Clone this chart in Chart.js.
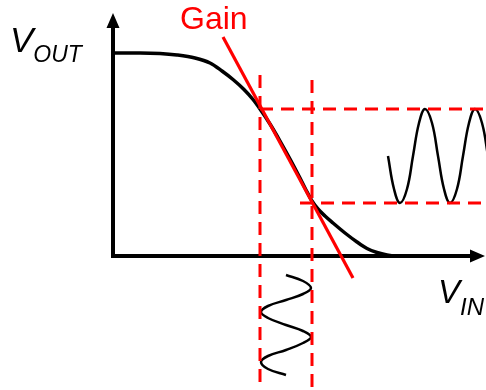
<!DOCTYPE html>
<html><head><meta charset="utf-8">
<script src="https://cdn.jsdelivr.net/npm/chart.js@4/dist/chart.umd.min.js"></script>
<style>html,body{margin:0;padding:0;background:#fff;overflow:hidden}#wrap{width:486px;height:390px}</style>
</head><body><div id="wrap"><canvas id="c" width="486" height="390"></canvas></div>
<script>
// Axis window (V_IN, V_OUT units)
const vinRange = [-11.3, 37.3];
const voutRange = [-13.4, 25.6];
const axisEnd = { vin: 37.2, vout: 24.3 };

// Transfer characteristic (black curve)
const transferVin  = [0, 2.7, 4.7, 6.4, 8.2, 9.7, 10.9, 12.0, 13.1, 14.0, 14.7, 15.7, 16.7, 17.7, 18.7, 19.3, 19.9, 20.5, 21.2, 22.0, 23.2, 24.4, 25.4, 26.4, 27.4, 28.2, 31.0];
const transferVout = [20.3, 20.3, 20.25, 20.1, 19.8, 19.3, 18.5, 17.65, 16.65, 15.65, 14.7, 13.2, 11.5, 9.7, 7.8, 6.6, 5.5, 4.7, 4.0, 3.3, 2.3, 1.4, 0.75, 0.35, 0.1, 0, 0];

// Gain tangent (red)
const gainVin  = [11.0, 24.0];
const gainVout = [21.9, -2.2];

// Operating window (red dashed)
const swingVin  = [14.7, 19.9];     // input swing limits
const swingVout = [14.7, 5.3];      // output swing limits
const dashTopVin = [18.1, 17.6];    // top of vertical dashed lines (V_OUT)
const dashStartVin = [14.7, 18.7];  // left start of horizontal dashed lines (V_IN)

// Input sine (vertical, below x axis)
const inSineVin  = [17.3, 19.0, 19.8, 19.0, 17.3, 15.5, 14.8, 15.5, 17.3, 19.0, 19.8, 19.0, 17.3, 15.5, 14.8, 15.5, 17.3];
const inSineVout = [-1.9, -2.5, -3.2, -3.8, -4.4, -5.0, -5.6, -6.2, -6.9, -7.5, -8.1, -8.7, -9.4, -10.0, -10.6, -11.3, -11.9];

// Output sine (horizontal, right side)
const outSineVin  = [27.5, 28.1, 28.7, 29.4, 30.0, 30.6, 31.2, 31.9, 32.5, 33.1, 33.7, 34.4, 35.0, 35.6, 36.2, 36.9, 37.5];
const outSineVout = [10.0, 6.7, 5.3, 6.7, 10.0, 13.3, 14.7, 13.3, 10.0, 6.7, 5.3, 6.7, 10.0, 13.3, 14.7, 13.3, 10.0];

// Labels
const labels = { vout: ['V', 'OUT'], vin: ['V', 'IN'], gain: 'Gain' };

const pts = (xs, ys) => xs.map((x, i) => ({ x, y: ys[i] }));
const RED = '#ff0000';
const FONT = '"Liberation Sans", Arial, sans-serif';

const dashBase = { borderColor: RED, borderWidth: 3, borderDash: [13, 8], pointRadius: 0, tension: 0, fill: false, order: 2 };

const datasets = [
  { data: pts(transferVin, transferVout), borderColor: '#000', borderWidth: 3.5, pointRadius: 0, cubicInterpolationMode: 'monotone', fill: false, order: 5 },
  { data: pts(inSineVin, inSineVout), borderColor: '#000', borderWidth: 2.5, pointRadius: 0, tension: 0.4, fill: false, order: 4 },
  { data: pts(outSineVin, outSineVout), borderColor: '#000', borderWidth: 2.5, pointRadius: 0, tension: 0.4, fill: false, order: 4 },
  Object.assign({}, dashBase, { data: [{ x: swingVin[0], y: dashTopVin[0] }, { x: swingVin[0], y: voutRange[0] }] }),
  Object.assign({}, dashBase, { data: [{ x: swingVin[1], y: dashTopVin[1] }, { x: swingVin[1], y: voutRange[0] }] }),
  Object.assign({}, dashBase, { data: [{ x: dashStartVin[0], y: swingVout[0] }, { x: vinRange[1], y: swingVout[0] }] }),
  Object.assign({}, dashBase, { data: [{ x: dashStartVin[1], y: swingVout[1] }, { x: vinRange[1], y: swingVout[1] }] }),
  { data: pts(gainVin, gainVout), borderColor: RED, borderWidth: 3.2, pointRadius: 0, tension: 0, fill: false, order: 1 }
];

const axesPlugin = {
  id: 'axesArrows',
  beforeDatasetsDraw(chart) {
    const ctx = chart.ctx, sx = chart.scales.x, sy = chart.scales.y;
    const ox = sx.getPixelForValue(0), oy = sy.getPixelForValue(0);
    const ex = sx.getPixelForValue(axisEnd.vin), ey = sy.getPixelForValue(axisEnd.vout);
    const L = 15, H = 6.5;
    ctx.save();
    ctx.strokeStyle = '#000'; ctx.fillStyle = '#000'; ctx.lineWidth = 4; ctx.lineCap = 'butt';
    ctx.beginPath();
    ctx.moveTo(ox, ey + L - 1); ctx.lineTo(ox, oy + 2);
    ctx.moveTo(ox - 2, oy); ctx.lineTo(ex - L + 1, oy);
    ctx.stroke();
    ctx.beginPath();
    ctx.moveTo(ox, ey); ctx.lineTo(ox - H, ey + L); ctx.lineTo(ox + H, ey + L); ctx.closePath();
    ctx.moveTo(ex, oy); ctx.lineTo(ex - L, oy - H); ctx.lineTo(ex - L, oy + H); ctx.closePath();
    ctx.fill();
    ctx.restore();
  },
  afterDatasetsDraw(chart) {
    const ctx = chart.ctx, sx = chart.scales.x, sy = chart.scales.y;
    ctx.save();
    ctx.textBaseline = 'alphabetic'; ctx.textAlign = 'left';
    // V_OUT
    ctx.fillStyle = '#000';
    let x = sx.getPixelForValue(-10.3), y = sy.getPixelForValue(20.4);
    ctx.font = 'italic 35px ' + FONT; ctx.fillText(labels.vout[0], x, y);
    let w = ctx.measureText(labels.vout[0]).width;
    ctx.font = 'italic 23px ' + FONT; ctx.fillText(labels.vout[1], x + w, y + 10);
    // V_IN
    x = sx.getPixelForValue(32.5); y = sy.getPixelForValue(-4.7);
    ctx.font = 'italic 33px ' + FONT; ctx.fillText(labels.vin[0], x, y);
    w = ctx.measureText(labels.vin[0]).width;
    ctx.font = 'italic 24px ' + FONT; ctx.fillText(labels.vin[1], x + w, y + 12);
    // Gain
    ctx.fillStyle = RED;
    ctx.font = '32px ' + FONT;
    ctx.fillText(labels.gain, sx.getPixelForValue(6.7), sy.getPixelForValue(22.7));
    ctx.restore();
  }
};

new Chart(document.getElementById('c'), {
  type: 'scatter',
  data: { datasets },
  options: {
    responsive: false,
    animation: false,
    devicePixelRatio: 1,
    showLine: true,
    layout: { padding: 0 },
    plugins: { legend: { display: false }, tooltip: { enabled: false }, title: { display: false } },
    scales: {
      x: { type: 'linear', min: vinRange[0], max: vinRange[1], display: false },
      y: { type: 'linear', min: voutRange[0], max: voutRange[1], display: false }
    },
    elements: { line: { borderCapStyle: 'butt' } }
  },
  plugins: [axesPlugin]
});
</script>
</body></html>
